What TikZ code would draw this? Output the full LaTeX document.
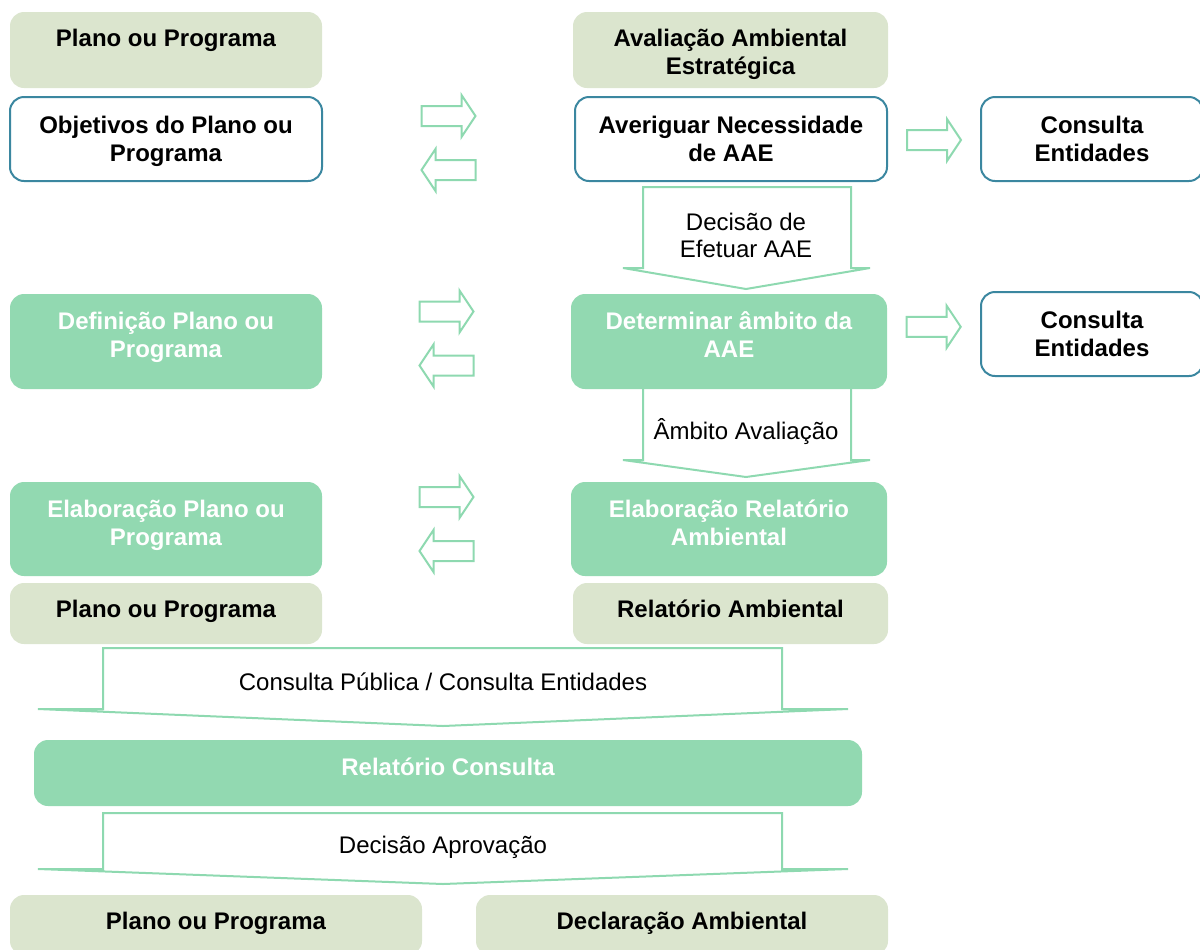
\documentclass[tikz,border=0pt]{standalone}
\usepackage{fontspec}
\setmainfont{Liberation Sans}
\usepackage{tikz}
\usetikzlibrary{calc}
\usetikzlibrary{backgrounds}
\definecolor{hdrgreen}{HTML}{DBE5CE}
\definecolor{actgreen}{HTML}{92D9B1}
\definecolor{arrgreen}{HTML}{8ED9B0}
\definecolor{tealline}{HTML}{3B87A0}

\begin{document}
\begin{tikzpicture}[x=0.5pt, y=-0.5pt,
% define styles here
box/.style={rectangle, rounded corners=7pt, inner sep=0pt},
btxt/.style={anchor=base, align=center, inner sep=0pt,
  font=\bfseries\fontsize{12}{13.8}\selectfont},
hdr/.style={box, fill=hdrgreen, label={[btxt, yshift=-17.25pt]north:#1}},
hdrtwo/.style={box, fill=hdrgreen, label={[btxt, yshift=-31.25pt]north:#1}},
outltwo/.style={box, draw=tealline, line width=1pt, fill=white, label={[btxt, yshift=-32.75pt]north:#1}},
act/.style={box, fill=actgreen, label={[btxt, text=white, yshift=-17.75pt]north:#1}},
acttwo/.style={box, fill=actgreen, label={[btxt, text=white, yshift=-31.75pt]north:#1}},
blk/.style={draw=arrgreen, line width=1pt, fill=white, line join=miter},
lbl/.style={align=center, font=\fontsize{12}{13.5}\selectfont},
rarr/.pic={\draw[blk] (-27,-10) -- (13,-10) -- (13,-21) -- (27,0) -- (13,21) -- (13,10) -- (-27,10) -- cycle;},
larr/.pic={\draw[blk] (27,-10) -- (-13,-10) -- (-13,-21) -- (-27,0) -- (-13,21) -- (-13,10) -- (27,10) -- cycle;}
]
\useasboundingbox (0,0) rectangle (1200,949);

% left column: plano
\node[hdr={Plano ou Programa}, minimum width=156pt, minimum height=38pt] (hdrP) at (166,50) {};
\node[outltwo={Objetivos do Plano ou\\Programa}, minimum width=156pt, minimum height=42pt] (obj) at (166,139) {};
\node[acttwo={Definição Plano ou\\Programa}, minimum width=156pt, minimum height=47.5pt] (def) at (166,341.5) {};
\node[acttwo={Elaboração Plano ou\\Programa}, minimum width=156pt, minimum height=47pt] (elabP) at (166,529) {};
\node[hdr={Plano ou Programa}, minimum width=156pt, minimum height=30.5pt] (ppA) at (166,613.5) {};

% right column: avaliacao
\node[hdrtwo={Avaliação Ambiental\\Estratégica}, minimum width=157.5pt, minimum height=38pt] (hdrA) at (730.5,50) {};
\node[outltwo={Averiguar Necessidade\\de AAE}, minimum width=156pt, minimum height=42pt] (aver) at (731,139) {};
\node[acttwo={Determinar âmbito da\\AAE}, minimum width=158pt, minimum height=47.5pt] (det) at (729,341.5) {};
\node[acttwo={Elaboração Relatório\\Ambiental}, minimum width=158pt, minimum height=47pt] (elabR) at (729,529) {};
\node[hdr={Relatório Ambiental}, minimum width=157.5pt, minimum height=30.5pt] (relA) at (730.5,613.5) {};

% consultas
\node[outltwo={Consulta\\Entidades}, minimum width=111pt, minimum height=42pt] (consA) at (1092,139) {};
\node[outltwo={Consulta\\Entidades}, minimum width=111pt, minimum height=42pt] (consB) at (1092,334) {};

% bottom
\node[act={Relatório Consulta}, minimum width=414pt, minimum height=33pt] (relC) at (448,773) {};
\node[hdr={Plano ou Programa}, minimum width=206pt, minimum height=30pt] (ppB) at (216,925) {};
\node[hdr={Declaração Ambiental}, minimum width=206pt, minimum height=30pt] (decl) at (682,925) {};

\begin{scope}[on background layer]
% side arrows
\pic at ($(obj.east)!.5!(aver.west)+(0,-23)$) {rarr};
\pic at ($(obj.east)!.5!(aver.west)+(0,31)$) {larr};
\pic at ($(def.east)!.5!(det.west)+(0,-30)$) {rarr};
\pic at ($(def.east)!.5!(det.west)+(0,24)$) {larr};
\pic at ($(elabP.east)!.5!(elabR.west)+(0,-32)$) {rarr};
\pic at ($(elabP.east)!.5!(elabR.west)+(0,22)$) {larr};
\pic at ($(aver.east)!.5!(consA.west)+(0,1)$) {rarr};
\pic at ($(det.east)!.5!(consB.west)+(0,-11)$) {rarr};

% down arrows
\draw[blk] (643,187) -- (643,268) -- (623,268) -- (746,289) -- (870,268) -- (851,268) -- (851,187) -- cycle;
\draw[blk] (643,380) -- (643,460) -- (623,460) -- (746,477) -- (870,460) -- (851,460) -- (851,380) -- cycle;
\draw[blk] (103,648) -- (103,709) -- (38,709) -- (443,726) -- (848,709) -- (782,709) -- (782,648) -- cycle;
\draw[blk] (103,813) -- (103,869) -- (38,869) -- (443,884) -- (848,869) -- (782,869) -- (782,813) -- cycle;
\end{scope}

\node[lbl] (decA) at (746,235) {Decisão de\\Efetuar AAE};
\node[lbl] (amb) at (746,432) {Âmbito Avaliação};
\node[lbl] (consP) at (443,682) {Consulta Pública / Consulta Entidades};
\node[lbl] (decB) at (443,847) {Decisão Aprovação};
\end{tikzpicture}
\end{document}
